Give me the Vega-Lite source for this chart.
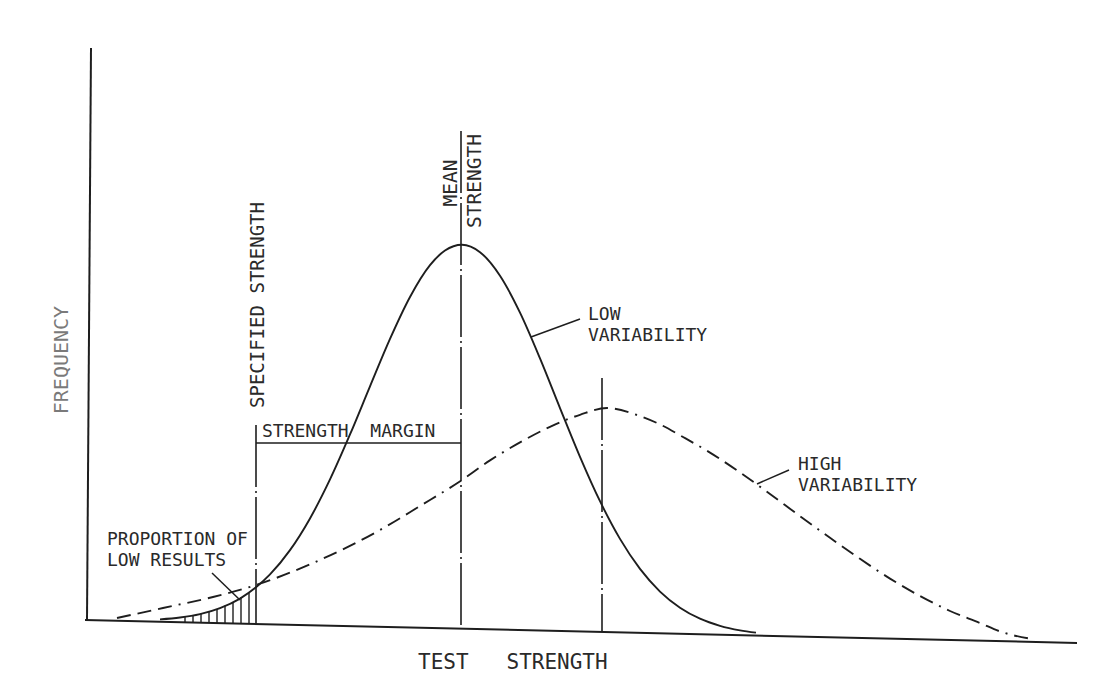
{
  "$schema": "https://vega.github.io/schema/vega-lite/v6.json",
  "width": 1100,
  "height": 679,
  "autosize": {"type": "fit", "contains": "padding"},
  "padding": 0,
  "background": "#ffffff",
  "config": {"view": {"stroke": null}},
  "datasets": {
    "axes": [
      {"axis": "y", "x": -0.3, "y": 0},
      {"axis": "y", "x": 0.1, "y": 95.33},
      {"axis": "x", "x": -0.5, "y": 0},
      {"axis": "x", "x": 98.7, "y": -3.83}
    ],
    "low": [
      {"x": 7.0, "y": 0.1}, {"x": 9.0, "y": 0.41}, {"x": 11.0, "y": 0.98}, {"x": 13.0, "y": 1.98},
      {"x": 15.0, "y": 3.57}, {"x": 16.6, "y": 5.44}, {"x": 18.0, "y": 7.59}, {"x": 20.0, "y": 11.64},
      {"x": 22.0, "y": 16.93}, {"x": 24.0, "y": 23.43}, {"x": 26.0, "y": 30.92}, {"x": 28.0, "y": 38.94},
      {"x": 30.0, "y": 46.85}, {"x": 32.0, "y": 53.84}, {"x": 34.0, "y": 59.14}, {"x": 35.5, "y": 61.59},
      {"x": 37.2, "y": 62.55}, {"x": 39.0, "y": 61.31}, {"x": 41.0, "y": 57.38}, {"x": 43.0, "y": 51.23},
      {"x": 45.0, "y": 43.6}, {"x": 47.0, "y": 35.33}, {"x": 49.0, "y": 27.2}, {"x": 51.0, "y": 19.8},
      {"x": 53.0, "y": 13.52}, {"x": 55.0, "y": 8.51}, {"x": 57.0, "y": 4.74}, {"x": 59.0, "y": 2.05},
      {"x": 61.0, "y": 0.22}, {"x": 63.0, "y": -0.97}, {"x": 65.0, "y": -1.72}, {"x": 66.6, "y": -2.11}
    ],
    "high": [
      {"x": 2.7, "y": 0.33}, {"x": 7.3, "y": 2.0}, {"x": 12.3, "y": 3.83}, {"x": 16.6, "y": 5.83},
      {"x": 22.3, "y": 9.5}, {"x": 29.0, "y": 15.0}, {"x": 33.0, "y": 19.0}, {"x": 36.9, "y": 23.0},
      {"x": 40.0, "y": 26.6}, {"x": 43.0, "y": 29.6}, {"x": 46.0, "y": 32.2}, {"x": 49.0, "y": 34.2},
      {"x": 51.7, "y": 35.33}, {"x": 54.7, "y": 34.17}, {"x": 57.0, "y": 32.6}, {"x": 59.3, "y": 30.5},
      {"x": 62.0, "y": 27.9}, {"x": 65.0, "y": 24.6}, {"x": 68.0, "y": 21.0}, {"x": 71.0, "y": 17.3},
      {"x": 74.0, "y": 13.7}, {"x": 77.0, "y": 10.2}, {"x": 80.0, "y": 6.9}, {"x": 83.0, "y": 4.0},
      {"x": 86.0, "y": 1.5}, {"x": 89.0, "y": -0.5}, {"x": 91.0, "y": -1.9}, {"x": 94.3, "y": -3.2}
    ],
    "hatch": [
      {"x": 9.5, "y": 0.5, "y2": -0.4}, {"x": 10.3, "y": 0.75, "y2": -0.42}, {"x": 11.1, "y": 1.1, "y2": -0.45},
      {"x": 11.9, "y": 1.45, "y2": -0.48}, {"x": 12.7, "y": 1.85, "y2": -0.51}, {"x": 13.5, "y": 2.4, "y2": -0.54},
      {"x": 14.3, "y": 3.0, "y2": -0.57}, {"x": 15.1, "y": 3.8, "y2": -0.6}, {"x": 15.9, "y": 4.6, "y2": -0.63}
    ],
    "vlines": [
      {"name": "specified", "x": 16.6, "y": 32.5, "y2": -0.67},
      {"name": "mean", "x": 37.1, "y": 81.5, "y2": -1.5},
      {"name": "high mean", "x": 51.2, "y": 40.33, "y2": -2.0}
    ],
    "margin": [{"x": 16.6, "x2": 37.1, "y": 29.5}],
    "leaders": [
      {"x": 44.1, "y": 47.17, "x2": 49.0, "y2": 50.17},
      {"x": 66.7, "y": 22.67, "x2": 69.9, "y2": 25.0},
      {"x": 12.2, "y": 7.83, "x2": 15.0, "y2": 3.33}
    ],
    "labels": [
      {"x": 49.8, "y": 50.83, "text": "LOW"},
      {"x": 49.8, "y": 47.33, "text": "VARIABILITY"},
      {"x": 70.8, "y": 25.83, "text": "HIGH"},
      {"x": 70.8, "y": 22.33, "text": "VARIABILITY"},
      {"x": 1.7, "y": 13.33, "text": "PROPORTION OF"},
      {"x": 1.7, "y": 9.83, "text": "LOW RESULTS"},
      {"x": 17.2, "y": 31.33, "text": "STRENGTH\u00a0\u00a0MARGIN"}
    ],
    "title": [{"x": 32.8, "y": -7.17, "text": "TEST\u00a0\u00a0\u00a0STRENGTH"}],
    "vlabels": [
      {"x": 16.8, "y": 52.5, "text": "SPECIFIED STRENGTH"}
    ],
    "meanlabels": [
      {"x": 36.1, "y": 72.83, "text": "MEAN"},
      {"x": 38.5, "y": 73.17, "text": "STRENGTH"}
    ],
    "freq": [{"x": -2.8, "y": 43.33, "text": "FREQUENCY"}]
  },
  "encoding": {
    "x": {"field": "x", "type": "quantitative", "axis": null, "scale": {"domain": [-9, 101], "nice": false, "zero": false}},
    "y": {"field": "y", "type": "quantitative", "axis": null, "scale": {"domain": [-9.8333, 103.3333], "nice": false, "zero": false}}
  },
  "layer": [
    {
      "data": {"name": "axes"},
      "mark": {"type": "line", "color": "#1e1e1e", "strokeWidth": 2},
      "encoding": {"detail": {"field": "axis"}}
    },
    {
      "data": {"name": "hatch"},
      "mark": {"type": "rule", "color": "#1e1e1e", "strokeWidth": 1.4},
      "encoding": {"y2": {"field": "y2"}}
    },
    {
      "data": {"name": "vlines"},
      "mark": {"type": "rule", "color": "#1e1e1e", "strokeWidth": 1.6, "strokeDash": [62, 4, 2, 4]},
      "encoding": {"y2": {"field": "y2"}}
    },
    {
      "data": {"name": "margin"},
      "mark": {"type": "rule", "color": "#1e1e1e", "strokeWidth": 1.4},
      "encoding": {"x2": {"field": "x2"}}
    },
    {
      "data": {"name": "leaders"},
      "mark": {"type": "rule", "color": "#1e1e1e", "strokeWidth": 1.5},
      "encoding": {"x2": {"field": "x2"}, "y2": {"field": "y2"}}
    },
    {
      "data": {"name": "low"},
      "mark": {"type": "line", "color": "#1e1e1e", "strokeWidth": 1.9, "interpolate": "monotone"},
      "encoding": {}
    },
    {
      "data": {"name": "high"},
      "mark": {"type": "line", "color": "#1e1e1e", "strokeWidth": 1.9, "interpolate": "monotone", "strokeDash": [14, 7, 14, 7, 14, 7, 2, 7]},
      "encoding": {}
    },
    {
      "data": {"name": "labels"},
      "mark": {"type": "text", "align": "left", "baseline": "middle", "font": "DejaVu Sans Mono", "fontSize": 18, "color": "#2a2a2a"},
      "encoding": {"text": {"field": "text"}}
    },
    {
      "data": {"name": "title"},
      "mark": {"type": "text", "align": "left", "baseline": "middle", "font": "DejaVu Sans Mono", "fontSize": 21, "color": "#2a2a2a"},
      "encoding": {"text": {"field": "text"}}
    },
    {
      "data": {"name": "vlabels"},
      "mark": {"type": "text", "align": "center", "baseline": "middle", "angle": 270, "font": "DejaVu Sans Mono", "fontSize": 19, "color": "#2a2a2a"},
      "encoding": {"text": {"field": "text"}}
    },
    {
      "data": {"name": "meanlabels"},
      "mark": {"type": "text", "align": "center", "baseline": "middle", "angle": 270, "font": "DejaVu Sans Mono", "fontSize": 19.5, "color": "#2a2a2a"},
      "encoding": {"text": {"field": "text"}}
    },
    {
      "data": {"name": "freq"},
      "mark": {"type": "text", "align": "center", "baseline": "middle", "angle": 270, "font": "DejaVu Sans Mono", "fontSize": 20, "color": "#7a7a7a"},
      "encoding": {"text": {"field": "text"}}
    }
  ]
}
